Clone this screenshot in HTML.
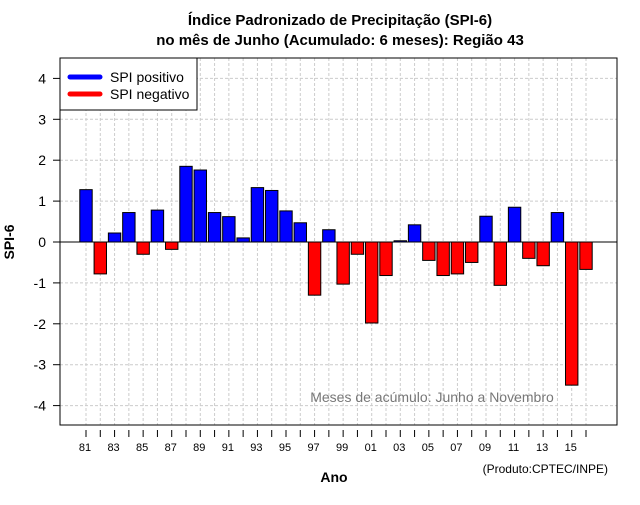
<!DOCTYPE html>
<html><head><meta charset="utf-8"><style>
body{margin:0;background:#fff}
svg{font-family:"Liberation Sans",sans-serif}
</style></head><body>
<svg id="c" width="640" height="500">
<text x="340" y="25" text-anchor="middle" font-size="15" font-weight="bold">Índice Padronizado de Precipitação (SPI-6)</text>
<text x="340" y="45" text-anchor="middle" font-size="15" font-weight="bold">no mês de Junho (Acumulado: 6 meses): Região 43</text>
<text x="14" y="242" transform="rotate(-90 14 242)" text-anchor="middle" font-size="14" font-weight="bold">SPI-6</text>
<text x="334" y="482" text-anchor="middle" font-size="14" font-weight="bold">Ano</text>
<text x="608" y="473" text-anchor="end" font-size="12">(Produto:CPTEC/INPE)</text>
<g id="grid"></g><g id="bars"></g><g id="axes"></g>
<text x="432" y="402" text-anchor="middle" font-size="14" fill="#777">Meses de acúmulo: Junho a Novembro</text>
<g>
<rect x="60" y="58" width="137" height="52" fill="#fff" stroke="#000"/>
<line x1="70" y1="77" x2="100" y2="77" stroke="#00f" stroke-width="5" stroke-linecap="round"/>
<text x="110" y="82" font-size="14">SPI positivo</text>
<line x1="70" y1="94" x2="100" y2="94" stroke="#f00" stroke-width="5" stroke-linecap="round"/>
<text x="110" y="99" font-size="14">SPI negativo</text>
</g>
</svg>
<script>
const years=[1981,1982,1983,1984,1985,1986,1987,1988,1989,1990,1991,1992,1993,1994,1995,1996,1997,1998,1999,2000,2001,2002,2003,2004,2005,2006,2007,2008,2009,2010,2011,2012,2013,2014,2015,2016];
const spi=[1.28,-0.78,0.22,0.72,-0.3,0.78,-0.18,1.85,1.76,0.72,0.62,0.1,1.33,1.26,0.76,0.47,-1.3,0.3,-1.03,-0.3,-1.98,-0.82,0.03,0.42,-0.45,-0.82,-0.78,-0.5,0.63,-1.06,0.85,-0.4,-0.58,0.72,-3.5,-0.67];
const yTicks=[-4,-3,-2,-1,0,1,2,3,4];
const NS='http://www.w3.org/2000/svg';
const L=60,R=617,T=58,B=425;
const x=i=>86+i*(586-86)/35;
const y=v=>242-v*40.9;
function mk(t,a,p){const e=document.createElementNS(NS,t);for(const k in a)e.setAttribute(k,a[k]);document.getElementById(p).appendChild(e);return e;}
years.forEach((yr,i)=>{
  const g=mk('line',{x1:x(i),x2:x(i),y1:T,y2:B,stroke:'#ccc','stroke-dasharray':'3,2'},'grid');
  
  
});
yTicks.forEach(v=>{
  const g=mk('line',{x1:L,x2:R,y1:y(v),y2:y(v),stroke:'#ccc','stroke-dasharray':'3,2'},'grid');
  
  
});
spi.forEach((v,i)=>{
  const b=mk('rect',{x:x(i)-6.2,width:12.4,y:Math.min(y(v),y(0)),height:Math.abs(y(v)-y(0)),fill:v>=0?'#00f':'#f00',stroke:'#000','stroke-width':1},'bars');
  
  
});
const z=mk('line',{x1:L,x2:R,y1:y(0),y2:y(0),stroke:'#000'},'axes');


const f=mk('rect',{x:L,y:T,width:R-L,height:B-T,fill:'none',stroke:'#000'},'axes');


yTicks.forEach(v=>{
  mk('line',{x1:L-7,x2:L,y1:y(v),y2:y(v),stroke:'#000'},'axes');
  const t=mk('text',{x:L-14,y:y(v)+5,'text-anchor':'end','font-size':14},'axes');
  t.textContent=v;
  
  
});
years.forEach((yr,i)=>{
  mk('line',{x1:x(i),x2:x(i),y1:B+5,y2:B+12,stroke:'#000'},'axes');
  if(i%2===0&&i<35){
    const t=mk('text',{x:x(i)-1,y:451,'text-anchor':'middle','font-size':11},'axes');
    t.textContent=String(yr).slice(2);
    
    
  }
});
</script>
</body></html>
